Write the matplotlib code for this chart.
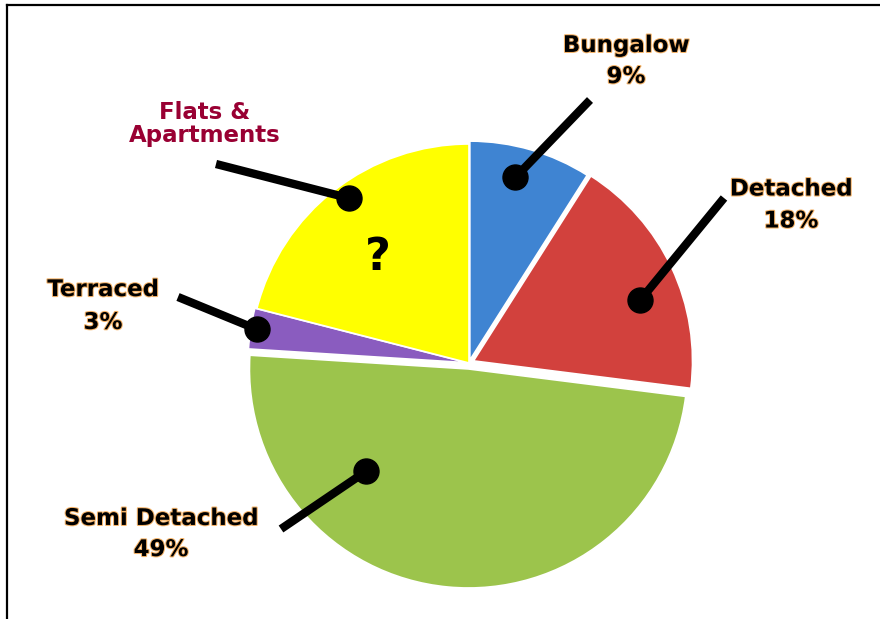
import numpy as np
import matplotlib
matplotlib.use("Agg")
from matplotlib import pyplot as plt
from matplotlib import patheffects as pe

# slices, clockwise from 12 o'clock
labels = ["Bungalow", "Detached", "Semi Detached", "Terraced", "Flats &\nApartments"]
shares = [9, 18, 49, 3, 21]
pct_text = ["9%", "18%", "49%", "3%", "?"]
colors = ["#3f84d2", "#d2413d", "#9cc44c", "#8a5cbf", "#ffff00"]
# offsets in px (pie explode is in data units here)
explode = [3, 5, 6, 2, 0]

W, H = 880, 619
fig = plt.figure(figsize=(8.8, 6.19), dpi=100)
ax = fig.add_axes([0, 0, 1, 1])

cx, cy, R = 469, H - 363, 219

wedges, _ = ax.pie(shares, colors=colors, startangle=90, counterclock=False,
                   center=(cx, cy), radius=R, explode=explode,
                   wedgeprops=dict(edgecolor="white", linewidth=1.2),
                   frame=True)
ax.set_xlim(0, W)
ax.set_ylim(0, H)
ax.set_aspect("equal")
ax.axis("off")

glow = [pe.withStroke(linewidth=1.5, foreground="#f5b46a")]
fnt = dict(family="DejaVu Sans", fontweight="bold", fontsize=16.5, ha="center", va="center")

# (dot angle deg, dot radius fraction, line end px x, y, text x, y, spacing)
leaders = [
    (76, 0.86, 590, 100, 626, 61, 1.45),
    (20, 0.81, 724, 198, 791, 205, 1.5),
    (-135, 0.66, 281, 529, 161, 534, 1.45),
    (171, 0.97, 178, 297, 103, 306, 1.55),
    (126, 0.93, 216, 164, 205, 124, 1.05),
]

for i, (ang, rf, lx, ly, tx, ty, sp) in enumerate(leaders):
    w = wedges[i]
    ox, oy = w.center
    a = np.deg2rad(ang)
    dx, dy = ox + rf * R * np.cos(a), oy + rf * R * np.sin(a)
    ax.plot([dx, lx], [dy, H - ly], color="black", lw=6, solid_capstyle="butt", zorder=5)
    ax.plot([dx], [dy], "o", color="black", ms=18, zorder=6)
    if i == 4:
        ax.text(tx, H - ty, labels[i], color="#990033", linespacing=sp, **fnt)
        ax.text(378, H - 258, pct_text[i], color="black", fontsize=32,
                fontweight="bold", ha="center", va="center", zorder=6)
    else:
        ax.text(tx, H - ty, labels[i] + "\n" + pct_text[i], color="black",
                linespacing=sp, path_effects=glow, **fnt)

# frame lines at top and left
ax.plot([7, W], [H - 5, H - 5], color="black", lw=1.6, zorder=10)
ax.plot([7, 7], [0, H - 5], color="black", lw=1.6, zorder=10)

fig.savefig("out.png", dpi=100)
